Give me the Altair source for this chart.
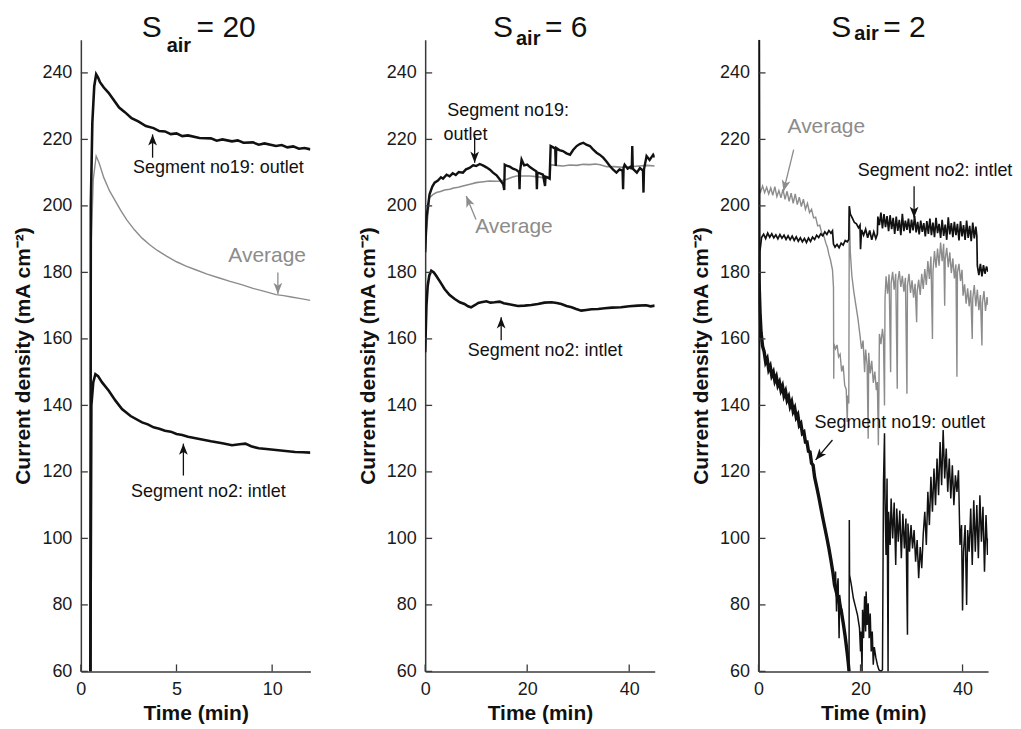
import altair as alt
import pandas as pd

FONT = "Liberation Sans"
BLACK = "#111111"
GRAY = "#8c8c8c"
AXIS = "#3a3a3a"
W, H = 230, 633
Y_TICKS = [60, 80, 100, 120, 140, 160, 180, 200, 220, 240]

# ---------------- Panel 1 : S_air = 20 (time 0-12 min) ----------------
P1_OUTLET = [(0.50, 60), (0.52, 200), (0.60, 225), (0.70, 236), (0.80, 239.6), (0.90, 238.6),
             (1.0, 237.2), (1.2, 235.6), (1.45, 234.0), (1.7, 232.0), (2.0, 229.6), (2.3, 228.2),
             (2.65, 226.4), (3.0, 225.4), (3.4, 224.0), (3.8, 223.4), (4.1, 222.5), (4.4, 222.4),
             (4.7, 221.6), (5.0, 221.8), (5.3, 221.0), (5.6, 221.2), (6.2, 220.4), (6.8, 220.3),
             (7.1, 219.6), (7.4, 220.0), (7.9, 219.4), (8.2, 219.7), (8.5, 219.0), (9.0, 219.1),
             (9.3, 218.4), (9.6, 218.8), (10.2, 218.0), (10.5, 218.3), (10.8, 217.6), (11.1, 217.9),
             (11.4, 217.2), (11.7, 217.4), (12.0, 217.0)]
P1_AVERAGE = [(0.50, 60), (0.55, 190), (0.65, 208), (0.80, 215.0), (0.95, 213.0), (1.2, 208.5),
              (1.5, 204.5), (1.8, 201.5), (2.1, 198.5), (2.4, 195.8), (2.8, 192.8), (3.2, 190.3),
              (3.6, 188.3), (4.0, 186.6), (4.5, 184.8), (5.0, 183.2), (5.5, 181.9), (6.0, 180.8),
              (6.6, 179.5), (7.2, 178.4), (7.8, 177.3), (8.4, 176.3), (9.0, 175.2), (9.6, 174.3),
              (10.2, 173.3), (10.6, 173.0), (11.0, 172.6), (11.5, 172.1), (12.0, 171.6)]
P1_INLET = [(0.50, 60), (0.55, 140), (0.65, 147), (0.76, 149.4), (0.9, 148.8), (1.1, 147.0),
            (1.46, 144.4), (1.8, 141.5), (2.15, 138.9), (2.6, 136.8), (3.2, 134.9), (3.5, 134.3),
            (3.8, 133.4), (4.1, 133.0), (4.4, 132.4), (4.7, 132.1), (5.0, 131.4), (5.3, 131.1),
            (5.6, 130.6), (6.2, 129.9), (6.8, 129.2), (7.4, 128.6), (7.9, 128.0), (8.3, 128.3),
            (8.6, 128.5), (8.9, 127.7), (9.3, 127.1), (9.7, 126.9), (10.2, 126.6), (10.7, 126.3),
            (11.2, 126.0), (11.6, 125.9), (12.0, 125.8)]
P1_TEXTS = [(7.19, 211.5, "Segment no19: outlet", BLACK, 18),
            (9.74, 185.0, "Average", GRAY, 21),
            (6.67, 113.9, "Segment no2: intlet", BLACK, 18)]
# tail t, tail v, head t, head v, head angle, colour
P1_ARROWS = [(3.75, 214.5, 3.75, 221.5, 0, BLACK),
             (10.3, 180.0, 10.3, 173.5, 180, GRAY),
             (5.36, 118.9, 5.36, 128.5, 0, BLACK)]

# ---------------- Panel 2 : S_air = 6 (time 0-45 min) ----------------
P2_OUTLET = [(0, 186), (0.3, 197), (0.86, 203.5), (1.4, 205.8), (1.85, 207.0), (2.5, 207.6),
             (3.1, 208.6), (3.5, 208.2), (4.2, 209.4), (4.8, 208.9), (5.4, 209.8), (6.0, 209.3),
             (6.6, 210.2), (7.4, 210.0), (8.0, 211.0), (8.7, 211.4), (9.4, 212.2), (10.0, 212.0),
             (10.7, 212.6), (11.4, 212.1), (12.0, 211.6), (12.7, 210.9), (13.3, 210.0), (14.0, 209.2),
             (14.6, 208.0), (15.3, 206.5), (15.5, 204.8), (15.6, 212.4), (16.1, 212.0), (16.6, 211.8),
             (17.2, 211.2), (17.9, 210.8), (18.4, 210.2), (18.5, 205.0), (18.6, 210.4), (18.9, 213.9),
             (19.4, 212.2), (20.0, 212.4), (20.6, 211.6), (21.3, 210.9), (21.8, 210.4), (21.9, 205.0),
             (22.0, 210.0), (22.5, 209.8), (23.1, 209.4), (23.5, 206.0), (23.6, 208.8), (24.1, 208.5),
             (24.4, 208.2), (24.6, 218.0), (25.1, 217.6), (25.5, 217.2), (25.6, 212.0), (25.7, 217.4),
             (26.3, 216.8), (27.0, 216.5), (27.7, 215.8), (28.4, 215.4), (29.0, 216.8), (29.7, 218.0),
             (30.3, 218.6), (31.0, 219.0), (31.6, 218.4), (32.3, 218.0), (32.9, 217.0), (33.6, 216.0),
             (34.2, 215.4), (34.9, 214.5), (35.5, 213.4), (36.2, 212.0), (36.8, 211.0), (37.5, 210.0),
             (38.1, 211.0), (38.7, 210.6), (38.8, 205.0), (38.9, 211.5), (39.1, 212.4), (39.7, 211.2),
             (40.3, 211.8), (40.5, 211.0), (40.6, 218.0), (40.7, 211.2), (41.5, 210.0), (42.1, 211.4),
             (42.7, 210.6), (42.8, 204.0), (42.9, 211.0), (43.4, 215.0), (44.0, 213.8), (44.7, 215.4),
             (45.0, 214.6)]
P2_AVERAGE = [(0, 186), (0.2, 192), (0.86, 202.5), (1.5, 203.4), (2.2, 204.0), (3.0, 204.3),
              (3.8, 204.8), (4.8, 205.0), (5.6, 205.4), (6.5, 205.6), (7.4, 206.0), (8.2, 206.3),
              (9.0, 206.6), (10.0, 207.0), (11.0, 207.2), (12.6, 207.5), (13.8, 207.4), (14.9, 207.5),
              (16.0, 208.0), (17.0, 208.6), (17.9, 209.0), (19.2, 209.0), (20.5, 209.0), (21.8, 208.8),
              (23.1, 208.5), (24.2, 208.3), (24.5, 208.4), (24.6, 212.4), (25.6, 212.2), (27.0, 212.0),
              (28.4, 212.3), (29.7, 212.2), (31.0, 212.5), (32.3, 212.4), (33.4, 212.6), (34.3, 212.4),
              (35.6, 211.8), (37.0, 211.8), (38.8, 211.6), (40.5, 211.8), (42.0, 212.0), (43.5, 212.2),
              (45.0, 212.0)]
P2_INLET = [(0, 156), (0.25, 170), (0.5, 176), (0.8, 179), (1.2, 180.5), (1.7, 180.0), (2.16, 179.0),
            (3.0, 177.0), (3.8, 175.0), (4.8, 173.2), (5.8, 172.0), (6.8, 171.0), (7.7, 170.5),
            (8.4, 169.8), (9.0, 169.5), (9.8, 170.2), (10.4, 170.8), (11.0, 171.0), (12.0, 171.3),
            (12.8, 170.9), (13.6, 171.0), (14.6, 171.2), (15.4, 170.7), (16.2, 170.5), (17.2, 170.2),
            (18.2, 169.9), (19.5, 170.0), (20.8, 170.2), (22.1, 170.5), (23.4, 170.9), (24.8, 171.0),
            (25.8, 170.8), (26.7, 170.5), (27.7, 169.9), (28.7, 169.5), (29.6, 169.0), (30.6, 168.5),
            (31.6, 168.7), (32.6, 168.9), (33.9, 169.0), (35.2, 169.2), (36.6, 169.4), (38.4, 169.5),
            (40.0, 169.8), (41.7, 170.0), (43.3, 170.1), (44.2, 169.8), (45.0, 170.0)]
P2_TEXTS = [(16.25, 228.4, "Segment no19:", BLACK, 18),
            (7.9, 221.4, "outlet", BLACK, 18),
            (17.4, 193.8, "Average", GRAY, 21),
            (23.5, 156.3, "Segment no2: intlet", BLACK, 18)]
P2_ARROWS = [(9.7, 221.0, 9.7, 213.0, 180, BLACK),
             (9.96, 195.9, 8.05, 203.0, 337.7, GRAY),
             (14.9, 159.6, 14.9, 166.5, 0, BLACK)]

# ---------------- Panel 3 : S_air = 2 (time 0-45 min) ----------------
P3_INLET = [(0, 60), (0.25, 186), (0.6, 190.5), (1.0, 191.5), (1.4, 190.2), (1.8, 191.8), (2.2, 190.6),
            (2.6, 191.6), (3.0, 190.4), (3.4, 191.3), (3.8, 190.1), (4.2, 191.4), (4.6, 190.3),
            (5.0, 191.2), (5.4, 189.9), (5.8, 191.0), (6.2, 189.8), (6.6, 190.9), (7.0, 189.6),
            (7.4, 190.7), (7.8, 189.4), (8.2, 190.4), (8.6, 189.2), (9.0, 190.2), (9.4, 189.0),
            (9.8, 190.3), (10.2, 189.3), (10.6, 190.6), (11.0, 189.9), (11.4, 191.2), (11.8, 190.5),
            (12.2, 191.6), (12.6, 191.0), (13.0, 192.2), (13.4, 191.4), (13.8, 192.6), (14.2, 191.8),
            (14.5, 192.5), (14.7, 188.5), (15.0, 187.6), (15.4, 188.4), (15.8, 187.4), (16.2, 188.8),
            (16.6, 188.2), (17.0, 189.6), (17.4, 189.2), (17.7, 189.9), (17.8, 199.9), (18.0, 197.5),
            (18.4, 196.3), (18.8, 195.0), (19.2, 194.6), (19.6, 193.4), (19.9, 194.2), (20.0, 187.0),
            (20.2, 192.8), (20.6, 191.2), (21.0, 193.0), (21.4, 190.4), (21.8, 192.6), (22.2, 189.8),
            (22.6, 192.2), (23.0, 190.2), (23.3, 191.5), (23.4, 196.8), (23.7, 194.2), (24.0, 198.0),
            (24.3, 193.2), (24.6, 197.5), (24.9, 193.6), (25.2, 196.9), (25.5, 192.4), (25.8, 197.2),
            (26.1, 193.0), (26.4, 196.4), (26.7, 191.6), (27.0, 196.8), (27.3, 192.5), (27.6, 195.8),
            (27.9, 191.2), (28.2, 197.6), (28.5, 192.4), (28.8, 195.6), (29.1, 192.8), (29.4, 196.2),
            (29.7, 191.8), (30.0, 195.9), (30.3, 192.6), (30.6, 197.0), (30.9, 192.0), (31.2, 195.2),
            (31.5, 191.4), (31.8, 195.6), (32.1, 192.2), (32.4, 194.8), (32.7, 190.8), (33.0, 195.4),
            (33.3, 191.6), (33.6, 196.2), (33.9, 191.2), (34.2, 195.0), (34.5, 190.6), (34.8, 196.4),
            (35.1, 191.8), (35.4, 194.6), (35.7, 190.4), (36.0, 195.8), (36.3, 191.0), (36.6, 194.4),
            (36.9, 189.8), (37.2, 196.6), (37.5, 191.4), (37.8, 194.8), (38.1, 190.6), (38.4, 195.2),
            (38.7, 191.2), (39.0, 194.6), (39.3, 189.6), (39.6, 195.4), (39.9, 190.8), (40.2, 194.2),
            (40.5, 189.8), (40.8, 195.6), (41.1, 190.4), (41.4, 194.0), (41.7, 189.4), (42.0, 195.0),
            (42.3, 190.2), (42.6, 193.8), (42.8, 191.0), (42.9, 182.0), (43.2, 179.2), (43.5, 182.6),
            (43.8, 178.8), (44.1, 182.2), (44.4, 179.6), (44.7, 181.8), (45.0, 180.2)]
P3_AVERAGE = [(0, 250), (0.1, 205.5), (0.4, 204.2), (0.8, 206.0), (1.2, 204.0), (1.6, 205.6),
              (2.0, 203.6), (2.4, 205.4), (2.8, 203.2), (3.2, 205.8), (3.6, 202.8), (4.0, 204.6),
              (4.4, 202.4), (4.8, 205.0), (5.2, 202.0), (5.6, 204.4), (6.0, 201.4), (6.4, 203.8),
              (6.8, 200.8), (7.2, 203.6), (7.6, 200.4), (8.0, 202.6), (8.4, 199.8), (8.8, 202.0),
              (9.2, 199.0), (9.6, 200.8), (10.0, 198.0), (10.4, 199.0), (10.8, 196.4), (11.2, 196.6),
              (11.6, 194.0), (12.0, 194.2), (12.4, 191.8), (12.8, 191.0), (13.2, 188.8), (13.5, 187.6),
              (13.8, 185.4), (14.1, 183.8), (14.5, 180.8), (14.7, 175.5), (14.75, 148.0), (14.8, 158.5),
              (15.1, 157.0), (15.4, 158.2), (15.7, 154.6), (16.0, 155.4), (16.3, 150.2), (16.6, 152.0),
              (16.9, 146.0), (17.2, 144.8), (17.4, 135.0), (17.5, 143.0), (17.7, 140.6), (17.8, 200.0),
              (18.0, 186.0), (18.3, 179.0), (18.7, 174.0), (19.1, 170.0), (19.5, 166.0), (19.9, 161.0),
              (20.2, 157.0), (20.5, 159.5), (20.8, 150.0), (21.0, 156.8), (21.3, 152.0), (21.5, 130.0),
              (21.6, 155.8), (21.9, 149.6), (22.2, 153.4), (22.5, 146.8), (22.8, 150.2), (23.1, 144.6),
              (23.3, 147.0), (23.5, 128.0), (23.6, 143.6), (23.7, 161.5), (24.0, 158.4), (24.3, 163.0),
              (24.5, 160.0), (24.7, 140.0), (24.8, 172.0), (25.0, 178.8), (25.3, 173.6), (25.6, 179.4),
              (25.9, 150.0), (26.0, 176.8), (26.3, 180.2), (26.6, 174.8), (26.9, 179.6), (27.2, 145.0),
              (27.3, 177.2), (27.6, 180.4), (27.9, 175.6), (28.2, 179.0), (28.5, 174.2), (28.8, 178.4),
              (29.1, 143.5), (29.2, 176.0), (29.5, 179.6), (29.8, 173.8), (30.1, 177.6), (30.4, 172.4),
              (30.7, 176.6), (31.0, 165.0), (31.1, 174.2), (31.4, 177.8), (31.7, 173.2), (32.0, 179.6),
              (32.3, 175.0), (32.6, 181.0), (32.9, 176.2), (33.2, 183.4), (33.5, 178.0), (33.8, 184.8),
              (34.1, 160.0), (34.2, 180.2), (34.5, 186.4), (34.8, 181.4), (35.1, 187.2), (35.4, 182.0),
              (35.7, 189.0), (36.0, 183.4), (36.3, 188.6), (36.5, 170.0), (36.6, 184.0), (36.9, 187.4),
              (37.2, 181.6), (37.5, 186.0), (37.8, 179.8), (38.1, 184.2), (38.4, 178.2), (38.7, 182.4),
              (38.9, 148.6), (39.0, 180.0), (39.3, 182.6), (39.6, 177.4), (39.9, 180.8), (40.1, 173.0),
              (40.4, 176.4), (40.7, 170.6), (41.0, 175.2), (41.3, 169.8), (41.6, 174.6), (41.9, 160.0),
              (42.0, 172.2), (42.3, 176.2), (42.6, 169.8), (42.9, 174.8), (43.2, 168.6), (43.5, 173.2),
              (43.8, 158.0), (43.9, 170.8), (44.2, 174.4), (44.5, 168.4), (44.8, 172.6), (45.0, 170.2)]
# outlet, first part: the steady, thick descent down to the axis floor
P3_OUTLET_DESCENT = [(0, 250), (0.1, 178), (0.3, 168), (0.5, 162), (0.8, 157.8), (1.1, 156.2),
                     (1.4, 153.0), (1.7, 154.0), (2.0, 150.8), (2.3, 151.8), (2.6, 149.0), (2.9, 150.0),
                     (3.2, 147.4), (3.5, 148.6), (3.8, 146.0), (4.1, 147.0), (4.4, 144.6), (4.7, 145.8),
                     (5.0, 143.0), (5.3, 144.2), (5.6, 141.6), (5.9, 142.6), (6.2, 139.8), (6.5, 141.0),
                     (6.8, 138.2), (7.1, 139.2), (7.4, 136.4), (7.7, 137.2), (8.0, 134.0), (8.3, 134.6),
                     (8.6, 131.6), (8.9, 132.0), (9.2, 129.0), (9.5, 129.0), (9.8, 126.2), (10.1, 126.0),
                     (10.4, 122.6), (10.7, 122.0), (11.0, 118.4), (11.4, 115.6), (11.8, 112.6),
                     (12.2, 109.4), (12.6, 106.2), (13.0, 103.2), (13.4, 100.2), (13.8, 97.0),
                     (14.2, 93.4), (14.6, 89.6), (14.9, 86.0), (15.4, 83.0), (15.9, 80.0), (16.2, 78.4),
                     (16.6, 74.6), (17.0, 70.4), (17.4, 65.4), (17.6, 62.5), (17.75, 60.0)]
# outlet, second part: spikes, collapse and noisy recovery
P3_OUTLET_LATE = [(14.9, 86.0), (15.1, 90.0), (15.3, 78.0), (15.4, 84.6), (15.6, 88.0), (15.8, 70.0),
                  (15.9, 83.0), (16.2, 79.4), (16.6, 74.6), (17.0, 70.4), (17.4, 65.4), (17.6, 62.5),
                  (17.75, 60.0),
                  (17.8, 105.5), (17.85, 89.0), (18.2, 86.0), (18.6, 82.0), (19.0, 79.5), (19.4, 77.0),
                  (19.8, 73.0), (20.0, 66.0), (20.1, 72.0), (20.3, 60.0), (20.4, 78.5), (20.6, 70.0),
                  (20.8, 82.6), (21.0, 72.0), (21.1, 84.0), (21.3, 74.0), (21.5, 80.5), (21.7, 70.0),
                  (21.9, 77.4), (22.1, 66.0), (22.3, 72.0), (22.5, 62.0), (22.7, 67.3), (23.0, 64.2),
                  (23.3, 62.0), (23.6, 60.5), (24.0, 60.0), (24.3, 60.5), (24.5, 116.5), (24.7, 131.6),
                  (24.8, 112.0), (25.0, 95.0), (25.2, 118.0), (25.4, 60.0), (25.5, 108.0), (25.8, 98.0),
                  (26.0, 112.0), (26.3, 100.0), (26.6, 110.8), (26.9, 92.0), (27.1, 109.0), (27.4, 99.0),
                  (27.7, 108.4), (28.0, 94.0), (28.3, 107.4), (28.6, 97.0), (28.9, 106.0), (29.2, 71.0),
                  (29.3, 104.5), (29.6, 96.0), (29.9, 104.0), (30.2, 97.0), (30.5, 102.5), (30.8, 93.0),
                  (31.1, 99.5), (31.4, 88.0), (31.7, 97.4), (32.0, 91.0), (32.3, 101.4), (32.6, 108.0),
                  (32.9, 98.0), (33.2, 114.0), (33.5, 104.0), (33.8, 118.5), (34.1, 108.0), (34.4, 121.0),
                  (34.7, 110.0), (35.0, 124.0), (35.3, 113.0), (35.6, 129.0), (35.9, 116.0), (36.2, 132.6),
                  (36.5, 118.0), (36.8, 127.0), (37.1, 114.0), (37.4, 124.0), (37.7, 112.0), (38.0, 122.0),
                  (38.3, 110.0), (38.6, 119.0), (38.9, 114.0), (39.2, 120.5), (39.5, 98.0), (39.8, 104.0),
                  (40.0, 78.3), (40.2, 96.0), (40.5, 104.0), (40.8, 80.0), (41.0, 102.5), (41.3, 96.0),
                  (41.6, 109.0), (41.9, 92.0), (42.2, 111.5), (42.5, 96.0), (42.8, 110.0), (43.1, 94.0),
                  (43.4, 113.0), (43.7, 99.0), (44.0, 109.5), (44.3, 90.0), (44.6, 107.0), (44.9, 95.0),
                  (45.0, 100.0)]
P3_TEXTS = [(13.3, 223.6, "Average", GRAY, 21),
            (34.6, 210.4, "Segment no2: intlet", BLACK, 18),
            (27.7, 134.6, "Segment no19: outlet", BLACK, 18)]
P3_ARROWS = [(6.9, 216.9, 4.9, 204.4, 193.5, GRAY),
             (30.5, 205.9, 30.5, 196.4, 180, BLACK),
             (14.5, 129.6, 11.2, 123.6, 220, BLACK)]

ARROW_HEAD = "M0,0L-0.45,1.15L0,0.85L0.45,1.15Z"


def pairs_df(pairs):
    return pd.DataFrame({"t": [p[0] for p in pairs], "v": [p[1] for p in pairs],
                         "i": list(range(len(pairs)))})


def panel(xmax, xticks, curves, texts, arrows, title_parts, extend_right=0):
    xs = alt.Scale(domain=[0, xmax], nice=False, zero=False)
    ys = alt.Scale(domain=[60, 250], nice=False, zero=False)
    xax = alt.Axis(values=xticks, title="Time (min)", format="d")
    yax = alt.Axis(values=Y_TICKS, title="Current density (mA cm\u207b\u00b2)", format="d")
    X = alt.X("t:Q", scale=xs, axis=xax)
    Y = alt.Y("v:Q", scale=ys, axis=yax)
    layers = []
    for pairs, color, width in curves:
        layers.append(alt.Chart(pairs_df(pairs)).mark_line(
            color=color, strokeWidth=width, clip=True, strokeJoin="miter").encode(
            x=X, y=Y, order="i:Q"))
    # inward tick marks
    layers.append(alt.Chart(pd.DataFrame({"v": Y_TICKS})).mark_rule(
        color=AXIS, strokeWidth=1.3).encode(y=Y, x=alt.value(0), x2=alt.value(7)))
    layers.append(alt.Chart(pd.DataFrame({"t": xticks})).mark_rule(
        color=AXIS, strokeWidth=1.3).encode(x=X, y=alt.value(H), y2=alt.value(H - 7)))
    # arrows
    adf = pd.DataFrame({"t": [a[0] for a in arrows], "v": [a[1] for a in arrows],
                        "t2": [a[2] for a in arrows], "v2": [a[3] for a in arrows],
                        "ang": [a[4] for a in arrows], "col": [a[5] for a in arrows]})
    layers.append(alt.Chart(adf).mark_rule(strokeWidth=1.3).encode(
        x=X, y=Y, x2="t2:Q", y2="v2:Q", color=alt.Color("col:N", scale=None)))
    hdf = pd.DataFrame({"t": adf["t2"], "v": adf["v2"], "ang": adf["ang"], "col": adf["col"]})
    layers.append(alt.Chart(hdf).mark_point(shape=ARROW_HEAD, filled=True, size=380, opacity=1,
                                            strokeWidth=0).encode(
        x=X, y=Y, angle=alt.Angle("ang:Q", scale=None), color=alt.Color("col:N", scale=None)))
    # annotation texts
    tdf = pd.DataFrame({"t": [a[0] for a in texts], "v": [a[1] for a in texts],
                        "label": [a[2] for a in texts], "col": [a[3] for a in texts],
                        "fs": [a[4] for a in texts]})
    layers.append(alt.Chart(tdf).mark_text(font=FONT, align="center", baseline="middle").encode(
        x=X, y=Y, text="label:N", color=alt.Color("col:N", scale=None),
        size=alt.Size("fs:Q", scale=None)))
    # panel title  S_air = n
    one = pd.DataFrame({"k": [0]})
    for txt, px, py, fs, bold in title_parts:
        layers.append(alt.Chart(one).mark_text(
            text=txt, font=FONT, fontSize=fs, fontWeight="bold" if bold else "normal",
            align="left", baseline="alphabetic", color=BLACK).encode(
            x=alt.value(px), y=alt.value(py)))
    if extend_right:
        # invisible spacer that widens this panel's bounds (controls gap to next panel)
        layers.append(alt.Chart(one).mark_rule(strokeOpacity=0, opacity=0).encode(
            x=alt.value(W), x2=alt.value(W + extend_right), y=alt.value(H / 2)))
    return alt.layer(*layers).properties(width=W, height=H)


p1 = panel(12, [0, 5, 10],
           [(P1_AVERAGE, GRAY, 1.4), (P1_OUTLET, BLACK, 2.6), (P1_INLET, BLACK, 2.6)],
           P1_TEXTS, P1_ARROWS,
           [("S", 61, -3, 30, False), ("air", 86, 12, 20, True), ("= 20", 116, -3, 30, False)],
           extend_right=11)
p2 = panel(45, [0, 20, 40],
           [(P2_AVERAGE, GRAY, 1.6), (P2_OUTLET, BLACK, 2.4), (P2_INLET, BLACK, 2.6)],
           P2_TEXTS, P2_ARROWS,
           [("S", 68, -3, 30, False), ("air", 91, 5, 20, True), ("= 6", 120, -3, 30, False)])
p3 = panel(45, [0, 20, 40],
           [(P3_AVERAGE, GRAY, 1.4), (P3_INLET, BLACK, 1.7),
            (P3_OUTLET_DESCENT, BLACK, 3.4), (P3_OUTLET_LATE, BLACK, 1.5)],
           P3_TEXTS, P3_ARROWS,
           [("S", 73, -3, 30, False), ("air", 96, 0, 20, True), ("= 2", 125, -3, 30, False)])

row = alt.hconcat(p1, p2, p3, spacing=35)

chart = row.properties(
    padding={"left": 4, "top": 4, "right": 0, "bottom": 0}
).configure_view(stroke=None).configure_axis(
    grid=False, ticks=False, tickSize=0, labelFlush=False,
    domainColor=AXIS, domainWidth=1.5,
    labelFont=FONT, labelFontSize=18, labelColor="#1a1a1a", labelPadding=9,
    titleFont=FONT, titleFontSize=21, titleFontWeight="bold", titleColor="#111111",
).configure_axisX(titlePadding=4).configure_axisY(titlePadding=8)

chart.save("out.html", embed_options={"renderer": "svg", "actions": False})
